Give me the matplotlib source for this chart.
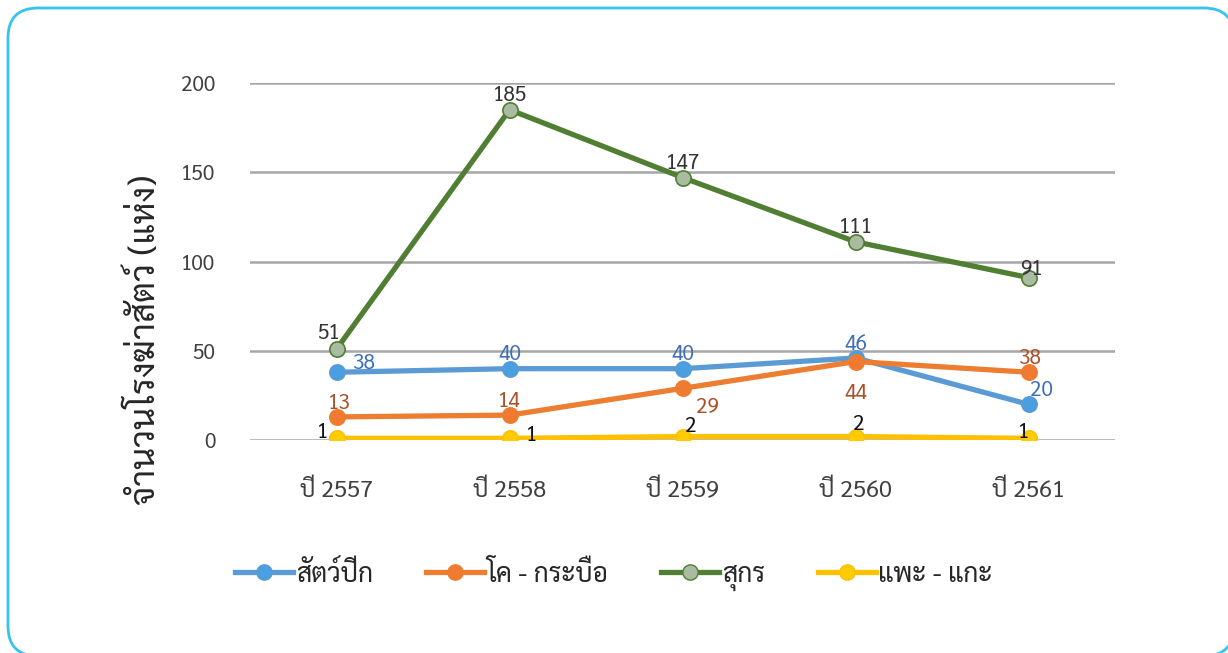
import matplotlib
matplotlib.use('Agg')
import matplotlib.pyplot as plt
from matplotlib.patches import FancyBboxPatch
from matplotlib.transforms import IdentityTransform
from matplotlib.lines import Line2D

plt.rcParams['font.family'] = ['Sarabun', 'DejaVu Sans']

# ข้อมูล
years = ['ปี 2557', 'ปี 2558', 'ปี 2559', 'ปี 2560', 'ปี 2561']
poultry = [38, 40, 40, 46, 20]
cattle = [13, 14, 29, 44, 38]
pigs = [51, 185, 147, 111, 91]
goats = [1, 1, 2, 2, 1]

series_names = ['สัตว์ปีก', 'โค - กระบือ', 'สุกร', 'แพะ - แกะ']
line_colors = ['#5B9BD5', '#ED7D31', '#507E32', '#FFC000']
marker_colors = ['#4A9FE0', '#F07A30', '#A9BBA0', '#FFCC00']
label_colors = ['#3F6FB8', '#A9522A', '#333333', '#111111']

# ตำแหน่งป้ายข้อมูล (offset เป็น pt)
offsets = [
    [(20, 6), (0, 10), (0, 10), (0, 10), (9, 10)],
    [(2, 10), (0, 10), (18, -14), (0, -23), (1, 10)],
    [(-6, 11), (0, 10), (0, 10), (0, 10), (2, 6)],
    [(-10, 4), (16, 2), (6, 7), (2, 9), (-4, 4)],
]

fig = plt.figure(figsize=(12.28, 6.53), dpi=100)

# กรอบมุมโค้ง (พื้นสีขาวทึบ อยู่หลังกราฟ เพื่อไม่ให้ Agg ตัดเส้นขอบที่ขอบภาพ)
box = FancyBboxPatch((8, -3), 1226, 648, boxstyle='round,pad=0,rounding_size=30',
                     transform=IdentityTransform(), fc='white',
                     ec='#33C3EE', lw=2.0, zorder=-1)
fig.patches.append(box)

ax = fig.add_axes([0.2036, 0.326, 0.7047, 0.547])
ax.patch.set_alpha(0)

x = list(range(len(years)))
all_series = [poultry, cattle, pigs, goats]
handles = []
for vals, name, lc, mc, tc, offs in zip(all_series, series_names, line_colors,
                                         marker_colors, label_colors, offsets):
    ax.plot(x, vals, color=lc, lw=3.8, marker='o', ms=11, mfc=mc, mec=lc,
            mew=1.2, zorder=3, solid_capstyle='round')
    for xi, v, (dx, dy) in zip(x, vals, offs):
        ax.annotate(str(v), (xi, v), xytext=(dx, dy), textcoords='offset points',
                    ha='center', va='center', fontsize=15, color=tc, zorder=5)
    handles.append(Line2D([0], [0], color=lc, lw=3.8, marker='o', ms=11,
                          mfc=mc, mec=lc, label=name))

ax.set_xlim(-0.5, 4.5)
ax.set_ylim(0, 200)
ax.set_yticks([0, 50, 100, 150, 200])
ax.set_xticks(x)
ax.set_xticklabels(years)
ax.tick_params(axis='both', length=0, labelsize=15, labelcolor='#404040')
ax.tick_params(axis='x', labelsize=17, pad=28)
ax.tick_params(axis='y', pad=25)
ax.grid(axis='y', color='#A6A6A6', lw=1.8)
ax.set_axisbelow(True)
for s in ax.spines.values():
    s.set_visible(False)
ax.set_ylabel('จำนวนโรงฆ่าสัตว์ (แห่ง)', fontsize=25, color='#262626')
ax.yaxis.set_label_coords(-0.1, 0.28)

fig.legend(handles=handles, loc='center', bbox_to_anchor=(0.5, 0.118), ncol=4,
           frameon=False, fontsize=19, handlelength=2.2, handletextpad=0.1,
           columnspacing=2.0, labelcolor='#262626')

fig.savefig('out.png', dpi=100)
